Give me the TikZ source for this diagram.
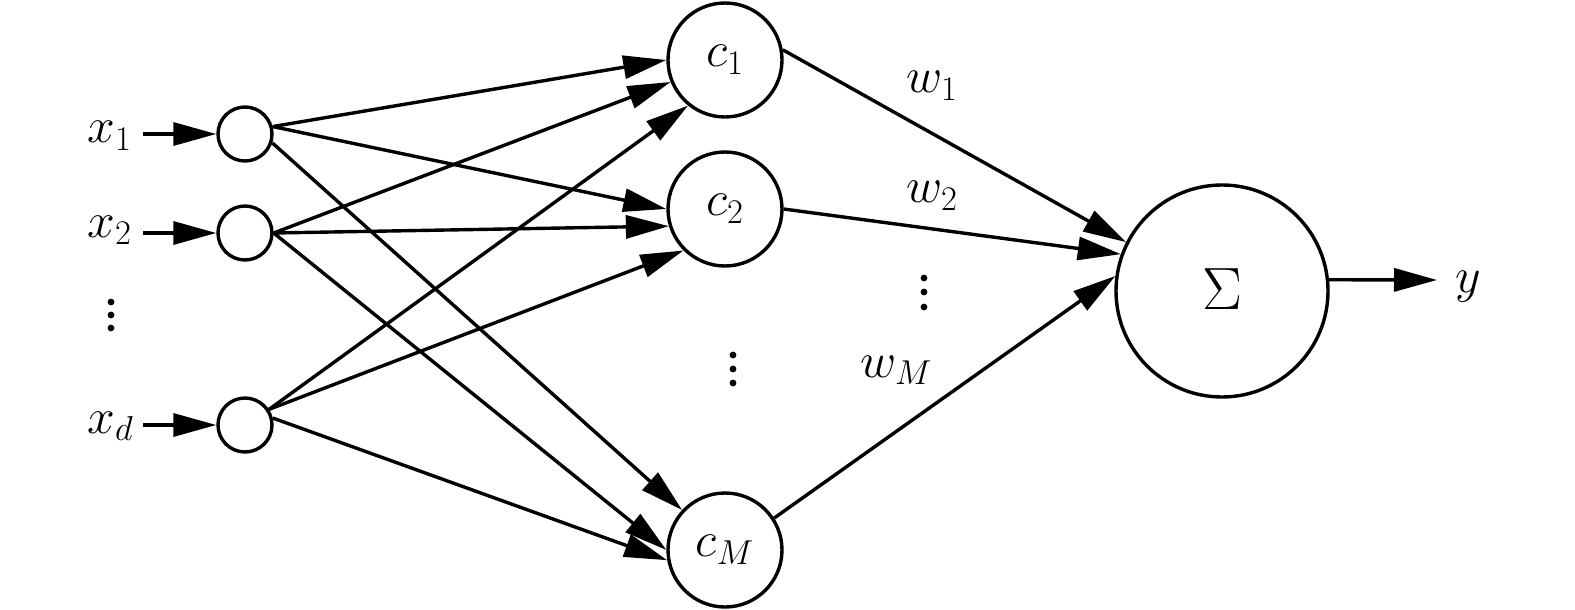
\documentclass[tikz,border=0pt]{standalone}
\usepackage{graphicx}
\usetikzlibrary{arrows.meta}
\tikzset{
  inp/.style={circle, draw, line width=1.7pt, minimum size=27pt, inner sep=0pt},
  hid/.style={circle, draw, line width=1.7pt, minimum size=57pt, inner sep=0pt, font=\fontsize{24}{26}\selectfont},
  sumnode/.style={circle, draw, line width=1.7pt, minimum size=106pt, inner sep=0pt},
  arr/.style={line width=1.7pt, -{Triangle[length=21.5pt,width=11.5pt]}},
  lab/.style={inner sep=0pt, anchor=base west, font=\fontsize{25}{27}\selectfont},
  dot/.style={circle, fill, inner sep=0pt, minimum size=3.4pt},
}
\begin{document}
\begin{tikzpicture}[x=0.5pt,y=-0.5pt]
\useasboundingbox (0,0) rectangle (1575,610);
% input nodes
\node[inp] (i1) at (245,134) {};
\node[inp] (i2) at (245,233) {};
\node[inp] (id) at (245,425) {};
% hidden nodes
\node[hid] (c1) at (725,60) {$c_1$};
\node[hid] (c2) at (725,209) {$c_2$};
\node[hid] (cM) at (725,550) {$c_M$};
% sum node
\node[sumnode] (S) at (1222,291) {};
\node[inner sep=0pt, font=\fontsize{25}{27}\selectfont] (sig) at (1222,289) {\scalebox{1.2}{$\Sigma$}};
% labels
\node[lab] (lx1) at (87,143) {$x_1$};
\node[lab] (lx2) at (87,237) {$x_2$};
\node[lab] (lxd) at (87,433) {$x_d$};
\node[lab] (lw1) at (906,93) {$w_1$};
\node[lab] (lw2) at (906,203) {$w_2$};
\node[lab] (lwM) at (860,377) {$w_M$};
\node[lab] (ly) at (1455,292) {$y$};
% arrow start coordinates
\coordinate (a1) at (143,134);
\coordinate (a2) at (143,233);
\coordinate (ad) at (143,425);
\coordinate (yout) at (1437,280);
% input arrows
\draw[arr] (a1) -- (i1.west);
\draw[arr] (a2) -- (i2.west);
\draw[arr] (ad) -- (id.west);
% input to hidden
\draw[arr] (i1.15) -- (c1.180);
\draw[arr] (i1.15) -- (c2.180);
\draw[arr] (i1.-18) -- (cM.137);
\draw[arr] (i2.0) -- (c1.202);
\draw[arr] (i2.0) -- (c2.197);
\draw[arr] (i2.0) -- (cM.180);
\draw[arr] (id.33) -- (c1.231);
\draw[arr] (id.33) -- (c2.225);
\draw[arr] (id.14) -- (cM.190);
% hidden to sum
\draw[arr] (c1.10) -- (S.153);
\draw[arr] (c2.0) -- (S.160);
\draw[arr] (cM.33) -- (S.172);
% output
\draw[arr] (S.6) -- (yout);
% dots
\foreach \yy [count=\k] in {302,315,328}{\node[dot] (da\k) at (111,\yy) {};}
\foreach \yy [count=\k] in {355,369,383}{\node[dot] (db\k) at (733,\yy) {};}
\foreach \yy [count=\k] in {278,292,307}{\node[dot] (dc\k) at (924,\yy) {};}
\end{tikzpicture}
\end{document}
